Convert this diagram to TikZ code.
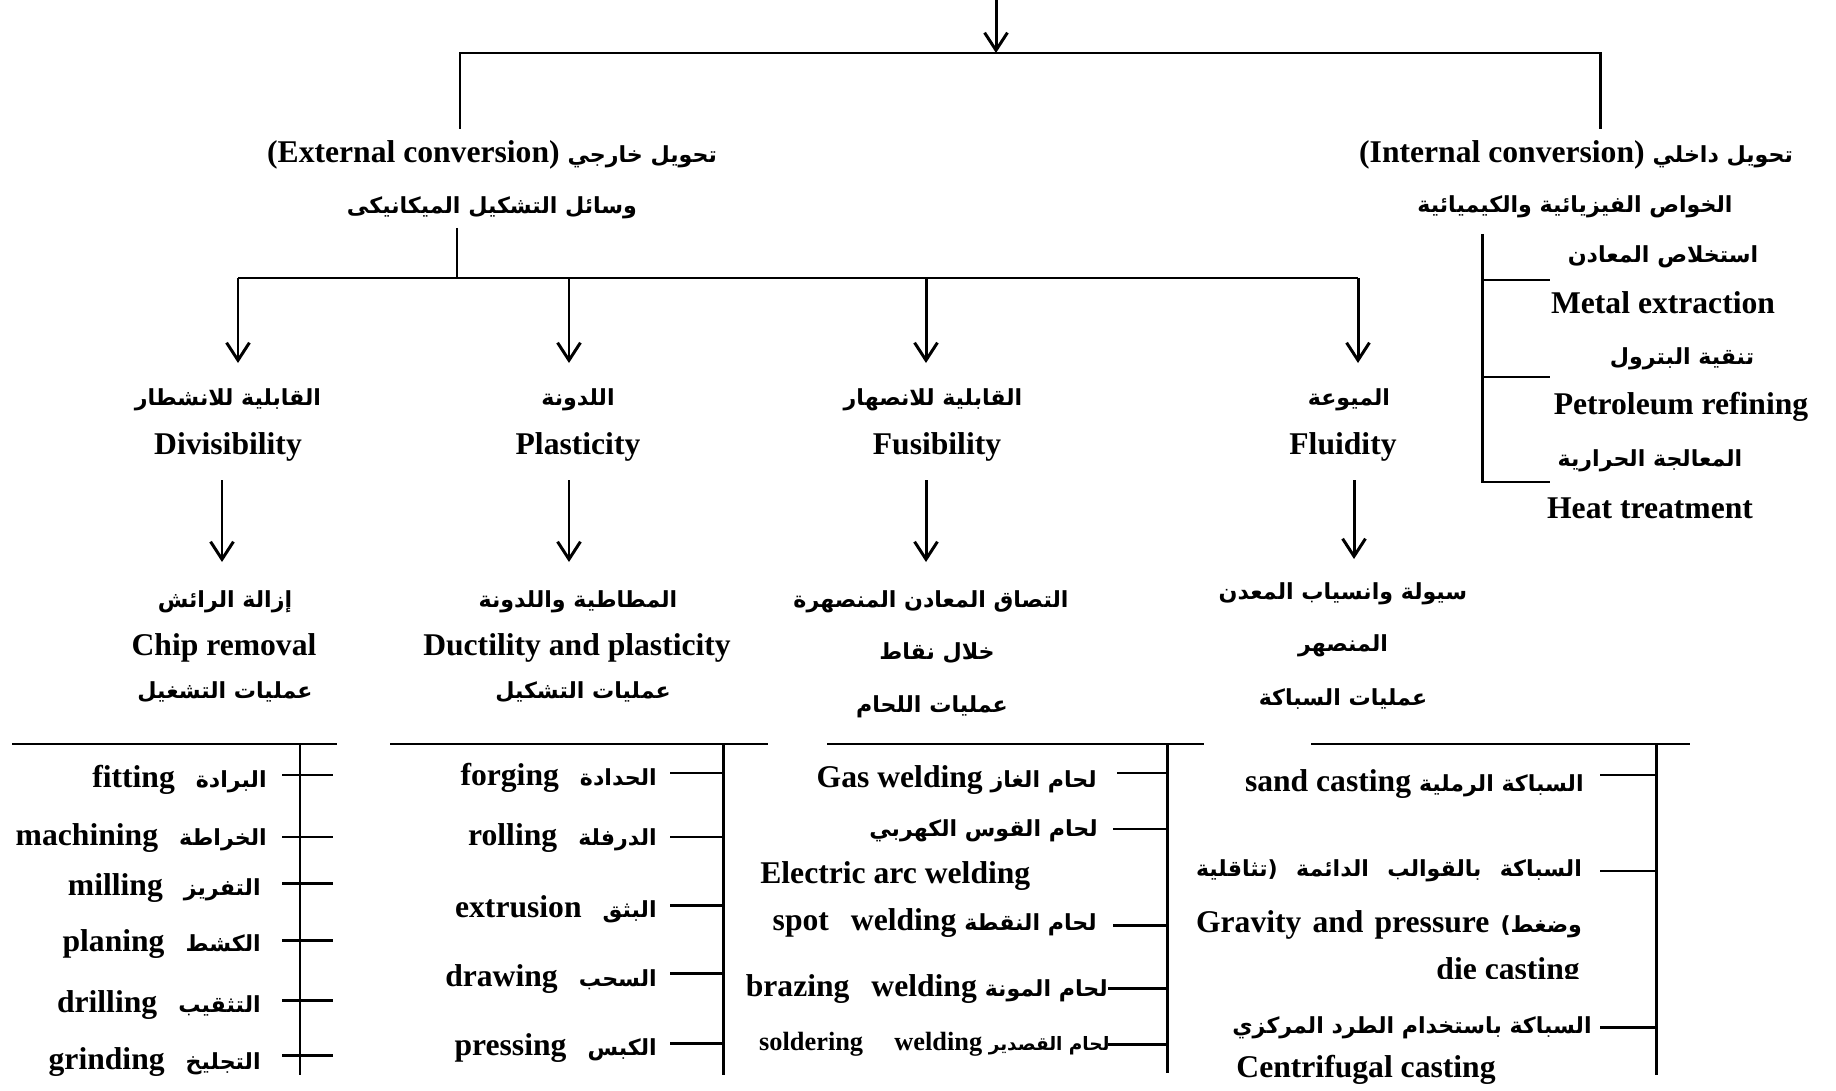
\documentclass[tikz,border=0pt]{standalone}
\usepackage{fontspec}
\setmainfont{Liberation Serif}[BoldFont={Liberation Serif Bold}]
\newfontfamily\arabicfont[Script=Arabic, Scale=0.7]{DejaVu Sans}
\TeXXeTstate=1
\usetikzlibrary{arrows.meta}
\newcommand{\artxt}[1]{{\arabicfont\beginR #1\endR}}

\tikzset{
  txt/.style={inner sep=0pt, font=\fontsize{18}{22}\selectfont\bfseries},
  smalltxt/.style={inner sep=0pt, font=\fontsize{15}{18}\selectfont\bfseries},
  conn/.style={line width=1.7pt},
  arr/.style={conn, -{Straight Barb[length=10pt,width=13pt,line width=1.7pt]}}
}

\begin{document}
\begin{tikzpicture}[x=0.02cm, y=-0.02cm]
\useasboundingbox (0,0) rectangle (1836,1091);

% top fork
\coordinate (src) at (996,0);
\coordinate (fork) at (996,53);
\coordinate (forkL) at (460,53);
\coordinate (forkR) at (1600,53);
\coordinate (extIn) at (460,129);
\coordinate (intIn) at (1600,129);
\draw[arr] (src) -- (fork);
\draw[conn] (extIn) -- (forkL) -- (forkR) -- (intIn);

\node[txt] (ext) at (492,155) {(External conversion) \artxt{تحويل خارجي}};
\node[txt] (extsub) at (492,208) {\artxt{وسائل التشكيل الميكانيكى}};
\node[txt] (int) at (1576,155) {(Internal conversion) \artxt{تحويل داخلي}};
\node[txt] (intsub) at (1575,207) {\artxt{الخواص الفيزيائية والكيميائية}};

% external branches
\coordinate (extOut) at (457,228);
\coordinate (extBar) at (457,278);
\coordinate (barL) at (238,278);
\coordinate (barR) at (1358,278);
\draw[conn] (extOut) -- (extBar);
\draw[conn] (barL) -- (barR);
\draw[arr] (barL) -- (238,363) coordinate (divIn);
\draw[arr] (569,278) coordinate (plastOut) -- (569,363) coordinate (plastIn);
\draw[arr] (926,278) coordinate (fusOut) -- (926,363) coordinate (fusIn);
\draw[arr] (barR) -- (1358,363) coordinate (fluIn);

\node[txt] (divAr) at (228,400) {\artxt{القابلية للانشطار}};
\node[txt] (div) at (228,447) {Divisibility};
\node[txt] (plastAr) at (578,400) {\artxt{اللدونة}};
\node[txt] (plast) at (578,447) {Plasticity};
\node[txt] (fusAr) at (933,400) {\artxt{القابلية للانصهار}};
\node[txt] (fus) at (937,447) {Fusibility};
\node[txt] (fluAr) at (1349,400) {\artxt{الميوعة}};
\node[txt] (flu) at (1343,447) {Fluidity};

\draw[arr] (222,480) coordinate (divOut) -- (222,562) coordinate (chipIn);
\draw[arr] (569,480) coordinate (plastDn) -- (569,562) coordinate (ductIn);
\draw[arr] (926,480) coordinate (fusDn) -- (926,562) coordinate (weldIn);
\draw[arr] (1354,480) coordinate (fluDn) -- (1354,559) coordinate (castIn);

\node[txt] (chipAr) at (225,602) {\artxt{إزالة الرائش}};
\node[txt] (chip) at (224,648) {Chip removal};
\node[txt] (chipOp) at (225,692) {\artxt{عمليات التشغيل}};
\node[txt] (ductAr) at (578,602) {\artxt{المطاطية واللدونة}};
\node[txt] (duct) at (577,648) {Ductility and plasticity};
\node[txt] (ductOp) at (583,692) {\artxt{عمليات التشكيل}};
\node[txt] (weldAr) at (931,602) {\artxt{التصاق المعادن المنصهرة}};
\node[txt] (weldAr2) at (937,653) {\artxt{خلال نقاط}};
\node[txt] (weldOp) at (932,707) {\artxt{عمليات اللحام}};
\node[txt] (castAr) at (1343,594) {\artxt{سيولة وانسياب المعدن}};
\node[txt] (castAr2) at (1343,646) {\artxt{المنصهر}};
\node[txt] (castOp) at (1343,699) {\artxt{عمليات السباكة}};

% internal list
\coordinate (intTop) at (1482,234);
\coordinate (intBot) at (1482,482);
\draw[conn] (intTop) -- (intBot) -- (1550,482) coordinate (heatEnd);
\draw[conn] (1482,280) -- (1550,280) coordinate (metalEnd);
\draw[conn] (1482,377) -- (1550,377) coordinate (petEnd);
\node[txt] (metalAr) at (1663,257) {\artxt{استخلاص المعادن}};
\node[txt] (metal) at (1663,303) {Metal extraction};
\node[txt] (petAr) at (1682,359) {\artxt{تنقية البترول}};
\node[txt] (pet) at (1681,407) {Petroleum refining};
\node[txt] (heatAr) at (1650,461) {\artxt{المعالجة الحرارية}};
\node[txt] (heat) at (1650,508) {Heat treatment};

% chip removal list
\draw[conn] (12,744) coordinate (chipL) -- (337,744) coordinate (chipR);
\draw[conn] (300,744) coordinate (chipTop) -- (300,1075) coordinate (chipBot);
\foreach \y [count=\i] in {775,837,883,940,1000,1055}
  \draw[conn] (282,\y) coordinate (chipT\i) -- (333,\y);
\node[txt, anchor=east] (fit) at (267,780) {fitting\hspace{12pt}\artxt{البرادة}};
\node[txt, anchor=east] (mach) at (267,838) {machining\hspace{12pt}\artxt{الخراطة}};
\node[txt, anchor=east] (mill) at (261,888) {milling\hspace{12pt}\artxt{التفريز}};
\node[txt, anchor=east] (plan) at (261,944) {planing\hspace{12pt}\artxt{الكشط}};
\node[txt, anchor=east] (drill) at (261,1005) {drilling\hspace{12pt}\artxt{التثقيب}};
\node[txt, anchor=east] (grind) at (261,1062) {grinding\hspace{12pt}\artxt{التجليخ}};

% forming list
\draw[conn] (390,744) coordinate (ductL) -- (768,744) coordinate (ductR);
\draw[conn] (723,744) coordinate (ductTop) -- (723,1075) coordinate (ductBot);
\foreach \y [count=\i] in {773,837,905,973,1043}
  \draw[conn] (670,\y) coordinate (ductT\i) -- (723,\y);
\node[txt, anchor=east] (forg) at (657,778) {forging\hspace{12pt}\artxt{الحدادة}};
\node[txt, anchor=east] (roll) at (657,838) {rolling\hspace{12pt}\artxt{الدرفلة}};
\node[txt, anchor=east] (extr) at (657,909) {extrusion\hspace{12pt}\artxt{البثق}};
\node[txt, anchor=east] (draw) at (657,979) {drawing\hspace{12pt}\artxt{السحب}};
\node[txt, anchor=east] (press) at (657,1048) {pressing\hspace{12pt}\artxt{الكبس}};

% welding list
\draw[conn] (827,744) coordinate (weldL) -- (1204,744) coordinate (weldR);
\draw[conn] (1167,744) coordinate (weldTop) -- (1167,1073) coordinate (weldBot);
\draw[conn] (1117,773) coordinate (gasT) -- (1167,773);
\draw[conn] (1113,829) coordinate (arcT) -- (1167,829);
\draw[conn] (1113,925) coordinate (spotT) -- (1167,925);
\draw[conn] (1108,988) coordinate (brazT) -- (1167,988);
\draw[conn] (1108,1044) coordinate (soldT) -- (1167,1044);
\node[txt, anchor=east] (gas) at (1097,780) {Gas welding \artxt{لحام الغاز}};
\node[txt, anchor=east] (arcAr) at (1098,831) {\artxt{لحام القوس الكهربي}};
\node[txt, anchor=west] (arc) at (760,876) {Electric arc welding};
\node[txt, anchor=east] (spot) at (1097,923) {spot\hspace{8pt} welding \artxt{لحام النقطة}};
\node[txt, anchor=east] (braz) at (1108,989) {brazing\hspace{8pt} welding \artxt{لحام المونة}};
\node[smalltxt, anchor=east] (sold) at (1110,1044) {soldering\hspace{14pt} welding \artxt{لحام القصدير}};

% casting list
\draw[conn] (1311,744) coordinate (castL) -- (1690,744) coordinate (castR);
\draw[conn] (1656,744) coordinate (castTop) -- (1656,1075) coordinate (castBot);
\draw[conn] (1600,775) coordinate (sandT) -- (1656,775);
\draw[conn] (1600,871) coordinate (dieT) -- (1656,871);
\draw[conn] (1600,1027) coordinate (centT) -- (1656,1027);
\node[txt, anchor=east] (sand) at (1584,784) {sand casting \artxt{السباكة الرملية}};
\node[txt] (dieAr) at (1389,871) {\makebox[7.72cm][s]{\artxt{السباكة بالقوالب الدائمة (تثاقلية}}};
\node[txt] (grav) at (1389,925) {\makebox[7.72cm][s]{Gravity and pressure \artxt{وضغط)}}};
\begin{scope}
  \clip (1400,940) rectangle (1620,978);
  \node[txt, anchor=east] (die) at (1580,972) {die casting};
\end{scope}
\node[txt, anchor=east] (centAr) at (1592,1028) {\artxt{السباكة باستخدام الطرد المركزي}};
\node[txt] (cent) at (1366,1070) {Centrifugal casting};

\end{tikzpicture}
\end{document}
